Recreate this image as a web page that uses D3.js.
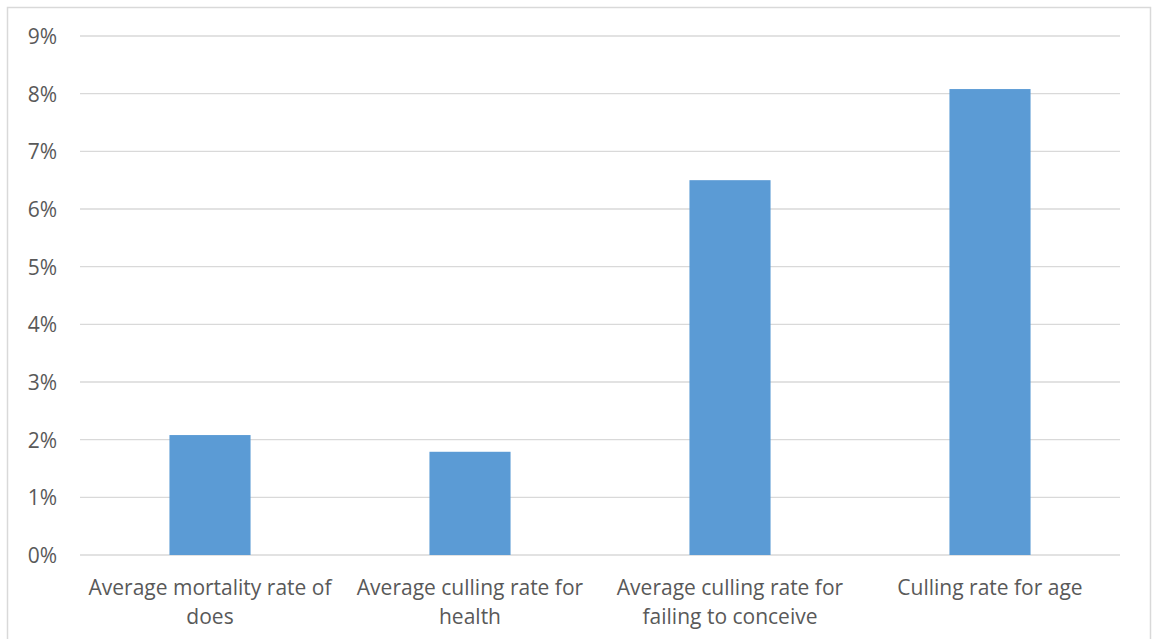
<!DOCTYPE html>
<html>
<head>
<meta charset="utf-8">
<script src="https://cdn.jsdelivr.net/npm/d3@7"></script>
<style>
  html, body { margin: 0; padding: 0; background: #ffffff; }
  svg { display: block; }
  text { font-family: "Open Sans", "Noto Sans", sans-serif; fill: #595959; }
</style>
</head>
<body>
<svg id="chart" width="1155" height="639"></svg>
<script>
// Rates per category (fractions)
const categories = [
  ["Average mortality rate of", "does"],
  ["Average culling rate for", "health"],
  ["Average culling rate for", "failing to conceive"],
  ["Culling rate for age"]
];
const values = [0.0208, 0.0179, 0.065, 0.0808];
const yTicks = [0, 0.01, 0.02, 0.03, 0.04, 0.05, 0.06, 0.07, 0.08, 0.09];

const svg = d3.select("#chart");
const plot = { left: 80, right: 1120, top: 36, bottom: 555 };

// chart frame
svg.append("rect")
  .attr("x", 7.5).attr("y", 7.5)
  .attr("width", 1143).attr("height", 660)
  .attr("fill", "#fff").attr("stroke", "#d9d9d9").attr("stroke-width", 1.5);

const x = d3.scaleBand()
  .domain(d3.range(categories.length))
  .range([plot.left, plot.right])
  .padding(0);

const y = d3.scaleLinear()
  .domain([0, 0.09])
  .range([plot.bottom, plot.top]);

// horizontal gridlines
svg.append("g")
  .selectAll("line")
  .data(yTicks)
  .join("line")
  .attr("x1", plot.left).attr("x2", plot.right)
  .attr("y1", d => y(d)).attr("y2", d => y(d))
  .attr("stroke", "#d9d9d9").attr("stroke-width", 1.3);

// y axis labels
const yAxis = d3.axisLeft(y)
  .tickValues(yTicks)
  .tickFormat(d3.format(".0%"))
  .tickSize(0)
  .tickPadding(23);
const yg = svg.append("g")
  .attr("transform", `translate(${plot.left},0)`)
  .call(yAxis);
yg.select(".domain").remove();
yg.selectAll("text")
  .attr("font-size", 21)
  .attr("dy", "0.35em")
  .attr("fill", "#595959")
  .style("font-family", '"Open Sans", "Noto Sans", sans-serif');

// bars
const barW = x.bandwidth() * 0.312;
svg.append("g")
  .selectAll("rect")
  .data(values)
  .join("rect")
  .attr("x", (d, i) => x(i) + x.bandwidth() / 2 - barW / 2)
  .attr("width", barW)
  .attr("y", d => y(d))
  .attr("height", d => y(0) - y(d))
  .attr("fill", "#5b9bd5");

// category labels
const xl = svg.append("g");
categories.forEach((lines, i) => {
  const t = xl.append("text")
    .attr("text-anchor", "middle")
    .attr("font-size", 21)
    .attr("x", x(i) + x.bandwidth() / 2)
    .attr("y", 595);
  lines.forEach((ln, k) => {
    t.append("tspan")
      .attr("x", x(i) + x.bandwidth() / 2)
      .attr("dy", k === 0 ? 0 : 29)
      .text(ln);
  });
});
</script>
</body>
</html>
